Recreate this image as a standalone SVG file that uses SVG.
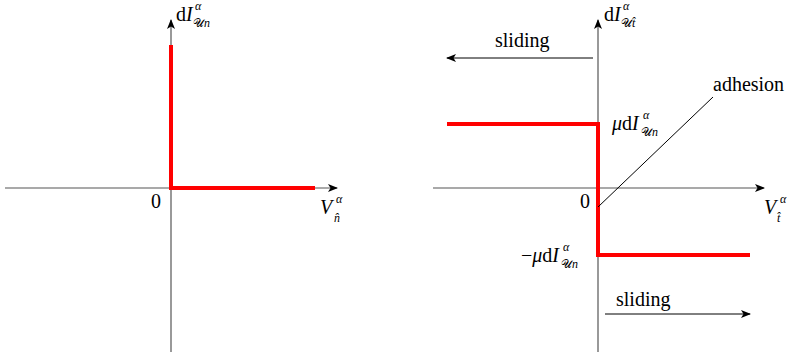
<svg xmlns="http://www.w3.org/2000/svg" width="788" height="354" viewBox="0 0 788 354">
<defs>
<marker id="ar" viewBox="0 0 10 8" refX="9" refY="4" markerWidth="10" markerHeight="8" markerUnits="userSpaceOnUse" orient="auto">
<path d="M0,0 L10,4 L0,8 L2.5,4 Z" fill="#000"/>
</marker>
</defs>
<style>
.ax{stroke:#555;stroke-width:1.2;fill:none}
.red{stroke:#ff0000;stroke-width:4;fill:none}
.ln{stroke:#000;stroke-width:1;fill:none}
text{font-family:"Liberation Serif","Times New Roman",serif;font-size:20px;fill:#000}
.i{font-style:italic}
.s{font-size:12px}
.u{font-style:normal}
</style>
<g id="connectors">
<line class="ax" x1="5" y1="188" x2="337" y2="188" marker-end="url(#ar)"/>
<line class="ax" x1="171" y1="352" x2="171" y2="20" marker-end="url(#ar)"/>
<line class="ax" x1="433" y1="188" x2="764" y2="188" marker-end="url(#ar)"/>
<line class="ax" x1="598" y1="352" x2="598" y2="20" marker-end="url(#ar)"/>
<polyline class="red" points="171,45 171,188 315,188"/>
<polyline class="red" points="447,124 598,124 598,255 750,255"/>
<line class="ln" x1="598" y1="207" x2="713" y2="97"/>
<line class="ln" x1="593" y1="58" x2="447" y2="58" marker-end="url(#ar)"/>
<line class="ln" x1="605" y1="314" x2="750" y2="314" marker-end="url(#ar)"/>
</g>
<g id="labels">
<text x="151" y="208">0</text>
<text x="580" y="208">0</text>
<text x="176" y="21">d<tspan class="i">I</tspan></text>
<text class="s i" x="195" y="10">α</text>
<text class="s" x="193" y="27"><tspan class="u">𝒰</tspan><tspan class="i">n</tspan></text>
<text class="i" x="320" y="214">V</text>
<text class="s i" x="336" y="203">α</text>
<text class="s i" x="334" y="222">n̂</text>
<text x="604" y="21">d<tspan class="i">I</tspan></text>
<text class="s i" x="623" y="10">α</text>
<text class="s" x="621" y="27"><tspan class="u">𝒰</tspan><tspan class="i">t̂</tspan></text>
<text class="i" x="764" y="214">V</text>
<text class="s i" x="780" y="203">α</text>
<text class="s i" x="777" y="222">t̂</text>
<text x="612" y="130"><tspan class="i">μ</tspan>d<tspan class="i">I</tspan></text>
<text class="s i" x="643" y="119">α</text>
<text class="s" x="641" y="136"><tspan class="u">𝒰</tspan><tspan class="i">n</tspan></text>
<text x="521" y="262">−<tspan class="i">μ</tspan>d<tspan class="i">I</tspan></text>
<text class="s i" x="563" y="251">α</text>
<text class="s" x="561" y="268"><tspan class="u">𝒰</tspan><tspan class="i">n</tspan></text>
<text x="495" y="47">sliding</text>
<text x="616" y="306">sliding</text>
<text x="713" y="91">adhesion</text>
</g>
</svg>
